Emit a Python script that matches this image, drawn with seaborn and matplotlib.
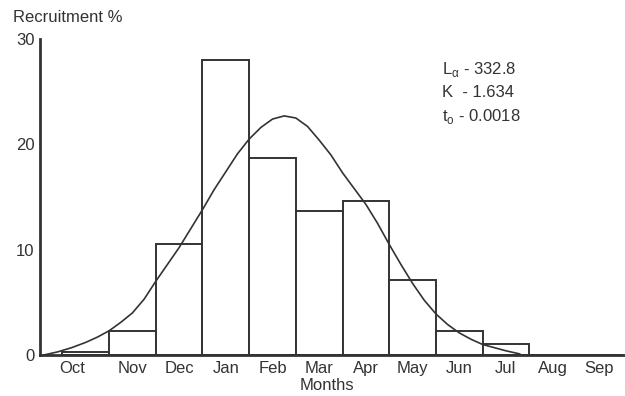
import matplotlib
matplotlib.use("Agg")
import matplotlib.pyplot as plt
import seaborn as sns
import pandas as pd

months = ["Oct", "Nov", "Dec", "Jan", "Feb", "Mar", "Apr", "May", "Jun", "Jul", "Aug", "Sep"]
recruitment = [0.3, 2.3, 10.5, 28.0, 18.7, 13.7, 14.6, 7.1, 2.3, 1.0, 0.0, 0.0]

# fitted curve (x in month positions, Oct = 0)
curve_x = [-0.9, -0.6, -0.3, 0, 0.25, 0.5, 0.75, 1, 1.25, 1.5, 1.75, 2, 2.25, 2.5, 2.75, 3, 3.25, 3.5,
           3.75, 4, 4.25, 4.5, 4.75, 5, 5.25, 5.5, 5.75, 6, 6.25, 6.5, 6.75, 7, 7.25, 7.5, 7.75, 8,
           8.25, 8.5, 8.75, 9, 9.3]
curve_y = [0, 0.3, 0.7, 1.2, 1.7, 2.3, 3.1, 4.0, 5.3, 7.0, 8.6, 10.2, 12.0, 13.8, 15.7, 17.4, 19.1, 20.5,
           21.6, 22.4, 22.7, 22.5, 21.7, 20.4, 19.0, 17.3, 15.8, 14.3, 12.5, 10.5, 8.6, 6.8, 5.2, 3.9, 2.9, 2.1,
           1.5, 1.0, 0.7, 0.4, 0.1]

sns.set_style("white")
plt.rcParams["font.family"] = ["Liberation Sans", "DejaVu Sans"]

df = pd.DataFrame({"month": months, "pct": recruitment})
curve = pd.DataFrame({"x": curve_x, "y": curve_y})

fig = plt.figure(figsize=(6.25, 3.96), dpi=100)
ax = fig.add_axes([0.064, 0.1035, 0.936, 0.798])

sns.barplot(data=df, x="month", y="pct", width=1.0, color="white",
            edgecolor="#333333", linewidth=1.4, ax=ax)
sns.lineplot(data=curve, x="x", y="y", color="#333333", linewidth=1.2, ax=ax)

ax.set_xlim(-0.98, 11.55)
ax.set_ylim(0, 30)
ax.set_yticks([0, 10, 20, 30])
# Oct label sits a little left of its bar in the original
tick_pos = [-0.28] + list(range(1, len(months)))
ax.set_xticks(tick_pos, months)
ax.tick_params(axis="both", direction="in", length=3, width=1, labelsize=12,
               color="#333333", labelcolor="#333333", pad=4)
ax.set_xlabel("Months", fontsize=12, labelpad=0, color="#333333")
ax.xaxis.set_label_coords(0.49, -0.072)
ax.set_ylabel("")
ax.text(-0.047, 1.067, "Recruitment %", transform=ax.transAxes, fontsize=12,
        ha="left", va="center", color="#333333")

for s in ["top", "right"]:
    ax.spines[s].set_visible(False)
for s in ["left", "bottom"]:
    ax.spines[s].set_color("#333333")
    ax.spines[s].set_linewidth(2)

ax.text(0.688, 0.905, r"L$_\mathregular{\alpha}$ - 332.8", transform=ax.transAxes, fontsize=12, ha="left", va="center", color="#333333")
ax.text(0.688, 0.83, "K  - 1.634", transform=ax.transAxes, fontsize=12, ha="left", va="center", color="#333333")
ax.text(0.688, 0.755, r"t$_\mathregular{o}$ - 0.0018", transform=ax.transAxes, fontsize=12, ha="left", va="center", color="#333333")

plt.savefig("out.png", dpi=100)
